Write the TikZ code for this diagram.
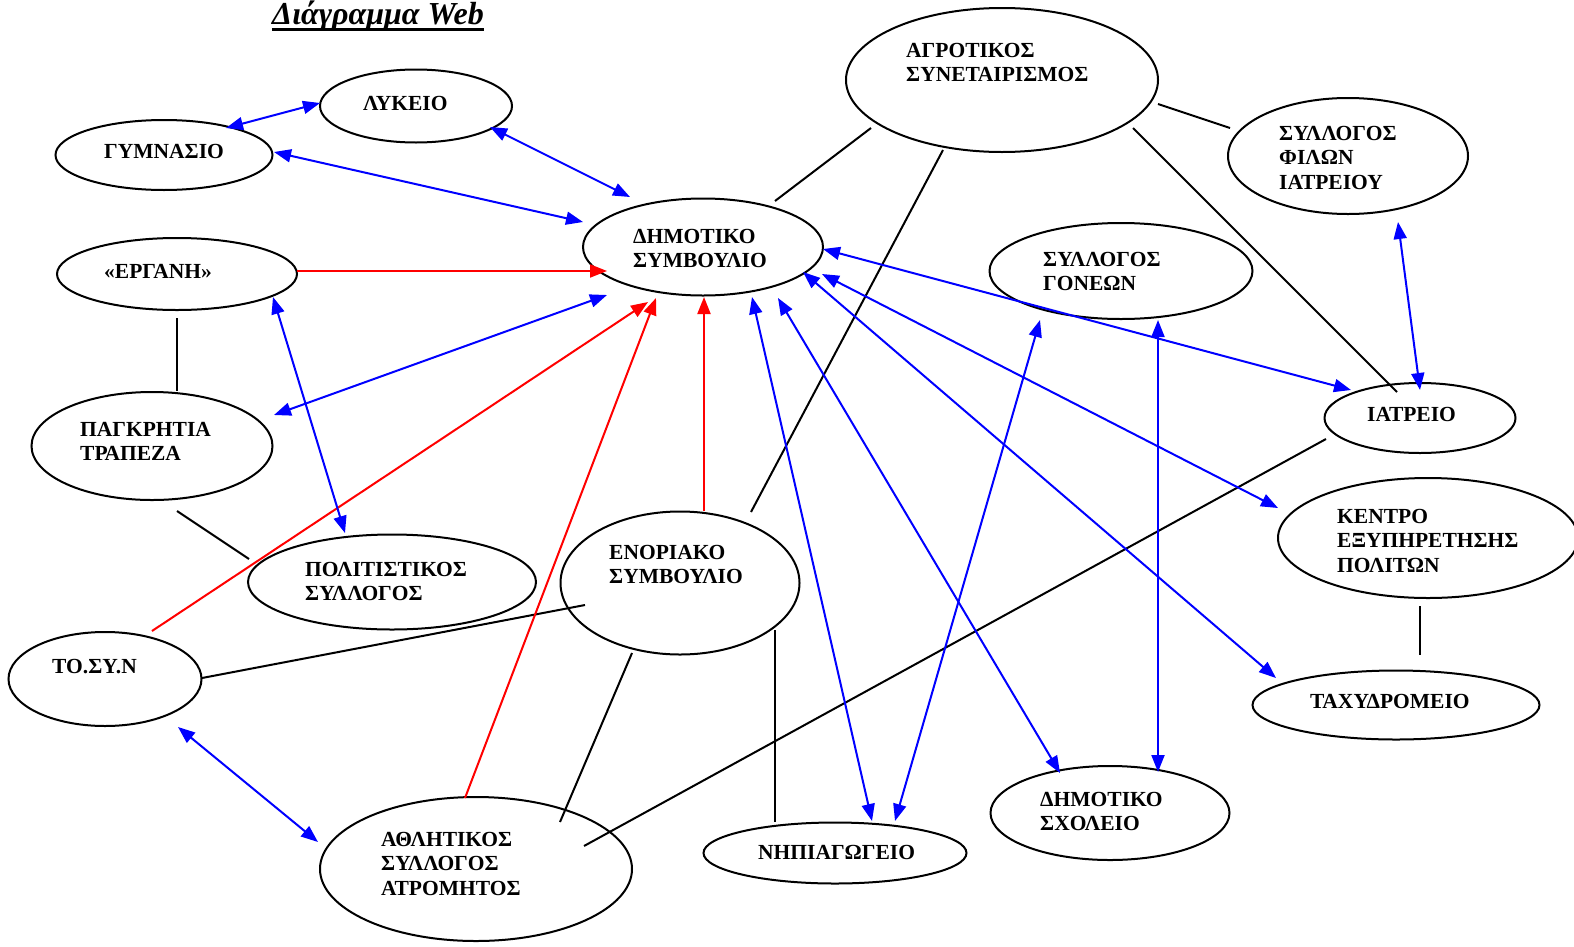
\documentclass[tikz,border=0pt]{standalone}
\usepackage{fontspec}
\setmainfont{Liberation Serif}
\usetikzlibrary{shapes.geometric,arrows.meta}
\tikzset{
  ell/.style={draw, ellipse, line width=2bp, inner sep=0pt},
  lbl/.style={anchor=base west, align=left, inner sep=0pt, font=\bfseries\fontsize{21.5bp}{24.5bp}\selectfont},
  tip/.tip={Triangle[length=17bp,width=13bp]},
  bluearr/.style={draw=blue, line width=2bp, tip-tip},
  redarr/.style={draw=red, line width=2bp, -tip},
  blkline/.style={draw=black, line width=2bp}
}
\begin{document}
\begin{tikzpicture}[x=1bp,y=-1bp]
\clip (0,0) rectangle (1574,946);
\useasboundingbox (0,0) rectangle (1574,946);
% title
\node[anchor=base west, inner sep=0pt, font=\bfseries\itshape\fontsize{32bp}{36bp}\selectfont] (title) at (272,24) {Διάγραμμα Web};
\draw[line width=2.5bp] ([yshift=-5.5bp]title.base west) -- ([yshift=-5.5bp]title.base east);
% ellipses
\node[ell, minimum width=192bp, minimum height=73bp] (lyk) at (416,106) {};
\node[ell, minimum width=217bp, minimum height=70bp] (gym) at (164,155) {};
\node[ell, minimum width=240bp, minimum height=97bp] (dsy) at (703,247) {};
\node[ell, minimum width=240bp, minimum height=72bp] (erg) at (177,274) {};
\node[ell, minimum width=241bp, minimum height=108bp] (pag) at (152,446) {};
\node[ell, minimum width=288bp, minimum height=95bp] (pol) at (392,582) {};
\node[ell, minimum width=193bp, minimum height=94bp] (tos) at (105,679) {};
\node[ell, minimum width=239bp, minimum height=143bp] (eno) at (680,583) {};
\node[ell, minimum width=312bp, minimum height=144bp] (ath) at (476,869) {};
\node[ell, minimum width=263bp, minimum height=61bp] (nip) at (835,853) {};
\node[ell, minimum width=239bp, minimum height=94bp] (dsx) at (1110,813) {};
\node[ell, minimum width=312bp, minimum height=144bp] (agr) at (1002,80) {};
\node[ell, minimum width=240bp, minimum height=116bp] (sfi) at (1348,156) {};
\node[ell, minimum width=263bp, minimum height=96bp] (sgo) at (1121,271) {};
\node[ell, minimum width=191bp, minimum height=70bp] (iat) at (1420,418) {};
\node[ell, minimum width=300bp, minimum height=120bp] (ken) at (1428,538) {};
\node[ell, minimum width=287bp, minimum height=69bp] (tax) at (1396,705) {};
% labels (anchor = baseline of the last line)
\node[lbl] (tlyk) at (363,110) {ΛΥΚΕΙΟ};
\node[lbl] (tgym) at (104,158) {ΓΥΜΝΑΣΙΟ};
\node[lbl] (tdsy) at (633,267.5) {ΔΗΜΟΤΙΚΟ\\ΣΥΜΒΟΥΛΙΟ};
\node[lbl] (terg) at (104,278) {«ΕΡΓΑΝΗ»};
\node[lbl] (tpag) at (80,460.5) {ΠΑΓΚΡΗΤΙΑ\\ΤΡΑΠΕΖΑ};
\node[lbl] (tpol) at (305,600.5) {ΠΟΛΙΤΙΣΤΙΚΟΣ\\ΣΥΛΛΟΓΟΣ};
\node[lbl] (ttos) at (52,673) {ΤΟ.ΣΥ.Ν};
\node[lbl] (teno) at (609,583.5) {ΕΝΟΡΙΑΚΟ\\ΣΥΜΒΟΥΛΙΟ};
\node[lbl] (tath) at (381,895) {ΑΘΛΗΤΙΚΟΣ\\ΣΥΛΛΟΓΟΣ\\ΑΤΡΟΜΗΤΟΣ};
\node[lbl] (tnip) at (758,859) {ΝΗΠΙΑΓΩΓΕΙΟ};
\node[lbl] (tdsx) at (1040,830.5) {ΔΗΜΟΤΙΚΟ\\ΣΧΟΛΕΙΟ};
\node[lbl] (tagr) at (906,81.5) {ΑΓΡΟΤΙΚΟΣ\\ΣΥΝΕΤΑΙΡΙΣΜΟΣ};
\node[lbl] (tsfi) at (1279,189) {ΣΥΛΛΟΓΟΣ\\ΦΙΛΩΝ\\ΙΑΤΡΕΙΟΥ};
\node[lbl] (tsgo) at (1043,290.5) {ΣΥΛΛΟΓΟΣ\\ΓΟΝΕΩΝ};
\node[lbl] (tiat) at (1367,421) {ΙΑΤΡΕΙΟ};
\node[lbl] (tken) at (1337,572) {ΚΕΝΤΡΟ\\ΕΞΥΠΗΡΕΤΗΣΗΣ\\ΠΟΛΙΤΩΝ};
\node[lbl] (ttax) at (1310,708) {ΤΑΧΥΔΡΟΜΕΙΟ};
% connector end points
\coordinate (gy-ly) at (226,128);  \coordinate (ly-gy) at (320,103);
\coordinate (ly-ds) at (490,127);  \coordinate (ds-ly) at (630,197);
\coordinate (gy-ds) at (274,152);  \coordinate (ds-gy) at (583,222);
\coordinate (ds-pa) at (607,295);  \coordinate (pa-ds) at (274,415);
\coordinate (er-po) at (273,297);  \coordinate (po-er) at (345,533);
\coordinate (to-at) at (178,727);  \coordinate (at-to) at (318,842);
\coordinate (ds-ni) at (752,297);  \coordinate (ni-ds) at (872,821);
\coordinate (ds-dx) at (778,298);  \coordinate (dx-ds) at (1060,773);
\coordinate (ds-ia) at (823,249);  \coordinate (ia-ds) at (1351,390);
\coordinate (ds-ke) at (822,274);  \coordinate (ke-ds) at (1278,508);
\coordinate (ds-ta) at (803,272);  \coordinate (ta-ds) at (1276,678);
\coordinate (sg-ni) at (1040,320); \coordinate (ni-sg) at (895,821);
\coordinate (sg-dx) at (1158,320); \coordinate (dx-sg) at (1158,772);
\coordinate (sf-ia) at (1398,222); \coordinate (ia-sf) at (1420,390);
\coordinate (er-ds) at (297,271);  \coordinate (ds-er) at (607,271);
\coordinate (to-ds) at (152,631);  \coordinate (ds-to) at (648,302);
\coordinate (at-ds) at (465,798);  \coordinate (ds-at) at (656,298);
\coordinate (en-ds) at (704,511);  \coordinate (ds-en) at (704,297);
\coordinate (ag-ds) at (871,128);  \coordinate (ds-ag) at (775,201);
\coordinate (ag-en) at (943,150);  \coordinate (en-ag) at (751,512);
\coordinate (ag-sf) at (1158,104); \coordinate (sf-ag) at (1230,128);
\coordinate (ag-ia) at (1133,128); \coordinate (ia-ag) at (1397,392);
\coordinate (er-pa) at (177,318);  \coordinate (pa-er) at (177,391);
\coordinate (pa-po) at (177,511);  \coordinate (po-pa) at (249,559);
\coordinate (to-en) at (202,678);  \coordinate (en-to) at (585,605);
\coordinate (en-at) at (632,653);  \coordinate (at-en) at (560,822);
\coordinate (en-ni) at (775,630);  \coordinate (ni-en) at (775,822);
\coordinate (ia-at) at (1326,439); \coordinate (at-ia) at (584,846);
\coordinate (ke-ta) at (1420,606); \coordinate (ta-ke) at (1420,655);
% black lines
\draw[blkline] (ag-ds) -- (ds-ag);
\draw[blkline] (ag-en) -- (en-ag);
\draw[blkline] (ag-sf) -- (sf-ag);
\draw[blkline] (ag-ia) -- (ia-ag);
\draw[blkline] (er-pa) -- (pa-er);
\draw[blkline] (pa-po) -- (po-pa);
\draw[blkline] (to-en) -- (en-to);
\draw[blkline] (en-at) -- (at-en);
\draw[blkline] (en-ni) -- (ni-en);
\draw[blkline] (ia-at) -- (at-ia);
\draw[blkline] (ke-ta) -- (ta-ke);
% red arrows
\draw[redarr] (er-ds) -- (ds-er);
\draw[redarr] (to-ds) -- (ds-to);
\draw[redarr] (at-ds) -- (ds-at);
\draw[redarr] (en-ds) -- (ds-en);
% blue arrows
\draw[bluearr] (gy-ly) -- (ly-gy);
\draw[bluearr] (ly-ds) -- (ds-ly);
\draw[bluearr] (gy-ds) -- (ds-gy);
\draw[bluearr] (ds-pa) -- (pa-ds);
\draw[bluearr] (er-po) -- (po-er);
\draw[bluearr] (to-at) -- (at-to);
\draw[bluearr] (ds-ni) -- (ni-ds);
\draw[bluearr] (ds-dx) -- (dx-ds);
\draw[bluearr] (ds-ia) -- (ia-ds);
\draw[bluearr] (ds-ke) -- (ke-ds);
\draw[bluearr] (ds-ta) -- (ta-ds);
\draw[bluearr] (sg-ni) -- (ni-sg);
\draw[bluearr] (sg-dx) -- (dx-sg);
\draw[bluearr] (sf-ia) -- (ia-sf);
\end{tikzpicture}
\end{document}
